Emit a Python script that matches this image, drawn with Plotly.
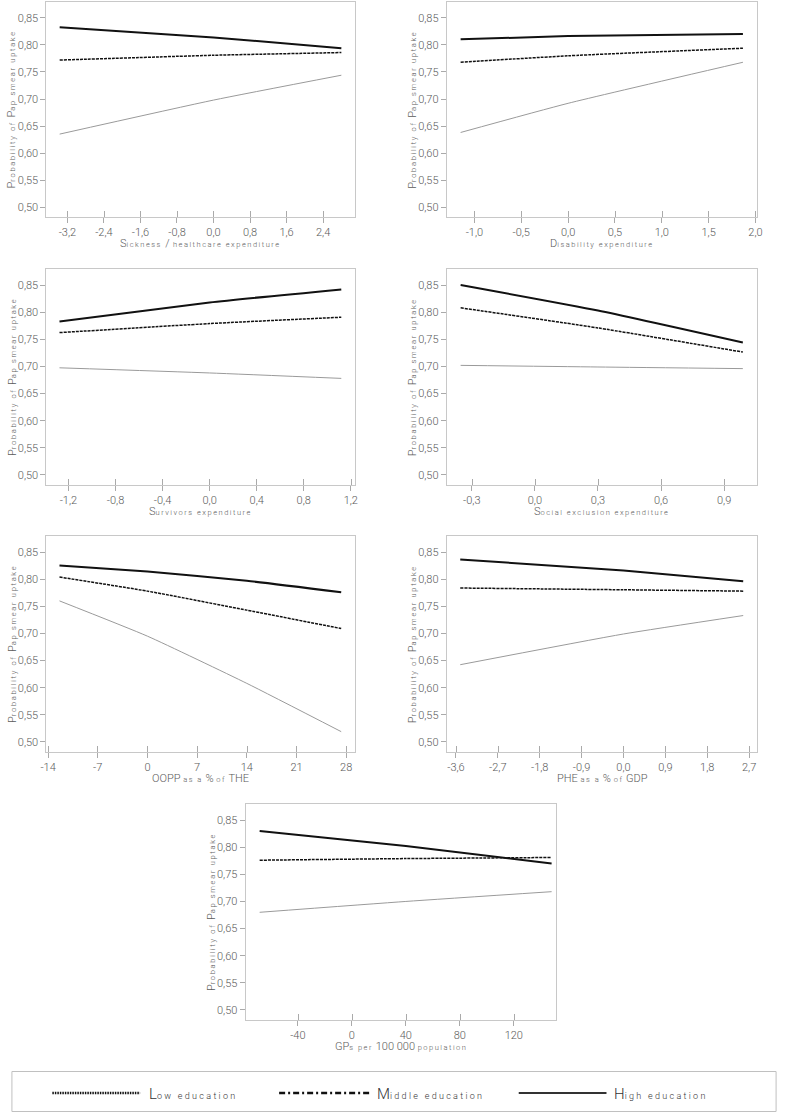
import plotly.graph_objects as go

# ---------------- data ----------------
sick_x = [-3.37, 0.0, 2.80]
sick_low = [0.635, 0.698, 0.744]
sick_mid = [0.772, 0.781, 0.786]
sick_high = [0.833, 0.814, 0.794]

dis_x = [-1.147, 0.0, 1.866]
dis_low = [0.638, 0.692, 0.768]
dis_mid = [0.768, 0.780, 0.794]
dis_high = [0.8105, 0.8165, 0.8205]

surv_x = [-1.276, 0.0, 1.119]
surv_low = [0.6975, 0.688, 0.678]
surv_mid = [0.7624, 0.779, 0.7907]
surv_high = [0.783, 0.818, 0.842]

soc_x = [-0.353, 0.3, 0.989]
soc_low = [0.702, 0.699, 0.696]
soc_mid = [0.808, 0.771, 0.7265]
soc_high = [0.850, 0.803, 0.744]

oopp_x = [-12.39, 0.0, 14.0, 27.3]
oopp_low = [0.760, 0.695, 0.608, 0.519]
oopp_mid = [0.804, 0.778, 0.743, 0.709]
oopp_high = [0.825, 0.814, 0.797, 0.776]

phe_x = [-3.508, 0.0, 2.573]
phe_low = [0.6424, 0.699, 0.733]
phe_mid = [0.7837, 0.7805, 0.778]
phe_high = [0.8364, 0.816, 0.796]

gps_x = [-68.3, 40.0, 148.0]
gps_low = [0.680, 0.700, 0.718]
gps_mid = [0.776, 0.779, 0.781]
gps_high = [0.830, 0.802, 0.770]

y_ticks = [0.50, 0.55, 0.60, 0.65, 0.70, 0.75, 0.80, 0.85]
y_ticklabels = ["0,50", "0,55", "0,60", "0,65", "0,70", "0,75", "0,80", "0,85"]

sick_ticks = [-3.2, -2.4, -1.6, -0.8, 0.0, 0.8, 1.6, 2.4]
sick_ticklabels = ["-3,2", "-2,4", "-1,6", "-0,8", "0,0", "0,8", "1,6", "2,4"]
dis_ticks = [-1.0, -0.5, 0.0, 0.5, 1.0, 1.5, 2.0]
dis_ticklabels = ["-1,0", "-0,5", "0,0", "0,5", "1,0", "1,5", "2,0"]
surv_ticks = [-1.2, -0.8, -0.4, 0.0, 0.4, 0.8, 1.2]
surv_ticklabels = ["-1,2", "-0,8", "-0,4", "0,0", "0,4", "0,8", "1,2"]
soc_ticks = [-0.3, 0.0, 0.3, 0.6, 0.9]
soc_ticklabels = ["-0,3", "0,0", "0,3", "0,6", "0,9"]
oopp_ticks = [-14, -7, 0, 7, 14, 21, 28]
oopp_ticklabels = ["-14", "-7", "0", "7", "14", "21", "28"]
phe_ticks = [-3.6, -2.7, -1.8, -0.9, 0.0, 0.9, 1.8, 2.7]
phe_ticklabels = ["-3,6", "-2,7", "-1,8", "-0,9", "0,0", "0,9", "1,8", "2,7"]
gps_ticks = [-40, 0, 40, 80, 120]
gps_ticklabels = ["-40", "0", "40", "80", "120"]

series_names = ["Low education", "Middle education", "High education"]

# ---------------- styling helpers ----------------
W, H = 787, 1113
TXT = "#5a5a5a"
FONT = "Roboto"


def sm(s, size=7.5, sp=1.5):
    return '<span style="font-size:%spx;letter-spacing:%spx">%s</span>' % (size, sp, s)


y_title = "P" + sm("robability of ", 7.5, 1.7) + "P" + sm("ap smear uptake", 7.5, 1.7)
x_titles = [
    "S" + sm("ickness ") + "/" + sm(" healthcare expenditure"),
    "D" + sm("isability expenditure"),
    "S" + sm("urvivors expenditure"),
    "S" + sm("ocial exclusion expenditure"),
    "OOPP " + sm("as a") + " % " + sm("of") + " THE",
    "PHE " + sm("as a") + " % " + sm("of") + " GDP",
    "GP" + sm("s per") + " 100 000 " + sm("population"),
]

panels = [
    dict(x=sick_x, lo=sick_low, mi=sick_mid, hi=sick_high, tv=sick_ticks, tt=sick_ticklabels,
         rng=[-3.66, 3.10], box=(41, 354, 2, 217)),
    dict(x=dis_x, lo=dis_low, mi=dis_mid, hi=dis_high, tv=dis_ticks, tt=dis_ticklabels,
         rng=[-1.295, 2.02], box=(447, 762, 2, 217)),
    dict(x=surv_x, lo=surv_low, mi=surv_mid, hi=surv_high, tv=surv_ticks, tt=surv_ticklabels,
         rng=[-1.387, 1.236], box=(41, 354, 269, 485)),
    dict(x=soc_x, lo=soc_low, mi=soc_mid, hi=soc_high, tv=soc_ticks, tt=soc_ticklabels,
         rng=[-0.419, 1.058], box=(447, 762, 269, 485)),
    dict(x=oopp_x, lo=oopp_low, mi=oopp_mid, hi=oopp_high, tv=oopp_ticks, tt=oopp_ticklabels,
         rng=[-14.23, 29.25], box=(41, 354, 536, 752)),
    dict(x=phe_x, lo=phe_low, mi=phe_mid, hi=phe_high, tv=phe_ticks, tt=phe_ticklabels,
         rng=[-3.798, 2.877], box=(447, 762, 536, 752)),
    dict(x=gps_x, lo=gps_low, mi=gps_mid, hi=gps_high, tv=gps_ticks, tt=gps_ticklabels,
         rng=[-78.7, 151.4], box=(243, 558, 804, 1020)),
]

fig = go.Figure()
layout = dict(
    width=W, height=H, margin=dict(l=0, r=0, t=0, b=0),
    paper_bgcolor="white", plot_bgcolor="white", showlegend=False,
    font=dict(family=FONT, color=TXT, size=11),
)
annotations = []
shapes = []

line_styles = [
    dict(color="#9a9a9a", width=1),
    dict(color="#111111", width=1.5, dash="3px,1px"),
    dict(color="#111111", width=2),
]

for i, p in enumerate(panels):
    n = "" if i == 0 else str(i + 1)
    l, r, t, b = p["box"]
    xa = dict(domain=[l / W, r / W], range=p["rng"], anchor="y" + n,
              tickmode="array", tickvals=p["tv"], ticktext=p["tt"],
              showgrid=False, zeroline=False, showline=True, mirror=True,
              linecolor="#c8c8c8", linewidth=1,
              ticks="outside", ticklen=5, tickcolor="#aaaaaa",
              minor=dict(ticks="inside", ticklen=6, tickcolor="#aaaaaa", tickmode="array",
                         tickvals=[v + (p["rng"][1] - p["rng"][0]) * 0.0008 for v in p["tv"]]),
              tickfont=dict(family=FONT, size=11, color=TXT, weight=300))
    ya = dict(domain=[1 - b / H, 1 - t / H], range=[0.4815, 0.8796], anchor="x" + n,
              tickmode="array", tickvals=y_ticks, ticktext=y_ticklabels,
              showgrid=False, zeroline=False, showline=True, mirror=True,
              linecolor="#c8c8c8", linewidth=1,
              ticks="outside", ticklen=5, tickcolor="#aaaaaa",
              tickfont=dict(family=FONT, size=11, color=TXT, weight=300))
    layout["xaxis" + n] = xa
    layout["yaxis" + n] = ya
    for k, key in enumerate(["lo", "mi", "hi"]):
        fig.add_trace(go.Scatter(x=p["x"], y=p[key], mode="lines", name=series_names[k],
                                 line=dict(shape="spline", smoothing=0.5, **line_styles[k]),
                                 xaxis="x" + n, yaxis="y" + n, hoverinfo="skip"))
    annotations.append(dict(text=x_titles[i], x=(l + r) / 2 / W, y=1 - (b + 26) / H,
                            xref="paper", yref="paper", showarrow=False,
                            xanchor="center", yanchor="middle",
                            font=dict(family=FONT, size=11, color=TXT, weight=300)))
    annotations.append(dict(text=y_title, x=(l - 35) / W, y=1 - (t + b) / 2 / H,
                            xref="paper", yref="paper", showarrow=False, textangle=-90,
                            xanchor="center", yanchor="middle",
                            font=dict(family=FONT, size=11, color=TXT, weight=300)))

# ---------------- legend box ----------------
shapes.append(dict(type="rect", xref="paper", yref="paper",
                   x0=6 / W, x1=781 / W, y0=1 - 1111.5 / H, y1=1 - 1071.5 / H,
                   line=dict(color="#c0c0c0", width=1), fillcolor="rgba(0,0,0,0)"))
leg_y = 1 - 1093 / H
leg_items = [
    (47, 136, dict(color="#111111", width=2.5, dash="1.5px,1px"), 143,
     "L" + sm("ow education", 9, 2.3)),
    (277, 369, dict(color="#111111", width=2.5, dash="6px,3px,2px,3px"), 374,
     "M" + sm("iddle education", 9, 2.3)),
    (520, 609, dict(color="#333333", width=2), 615,
     "H" + sm("igh education", 9, 2.3)),
]
for x0, x1, ls, tx, label in leg_items:
    shapes.append(dict(type="line", xref="paper", yref="paper",
                       x0=x0 / W, x1=x1 / W, y0=leg_y, y1=leg_y, line=ls))
    annotations.append(dict(text=label, x=tx / W, y=1 - 1093.5 / H, xref="paper", yref="paper",
                            showarrow=False, xanchor="left", yanchor="middle",
                            font=dict(family=FONT, size=15, color="#333333", weight=300)))

layout["annotations"] = annotations
layout["shapes"] = shapes
fig.update_layout(**layout)
fig.write_html("out.html", config={"displayModeBar": False, "staticPlot": True},
               post_script="document.body.style.margin='0';document.body.style.overflow='hidden';")
